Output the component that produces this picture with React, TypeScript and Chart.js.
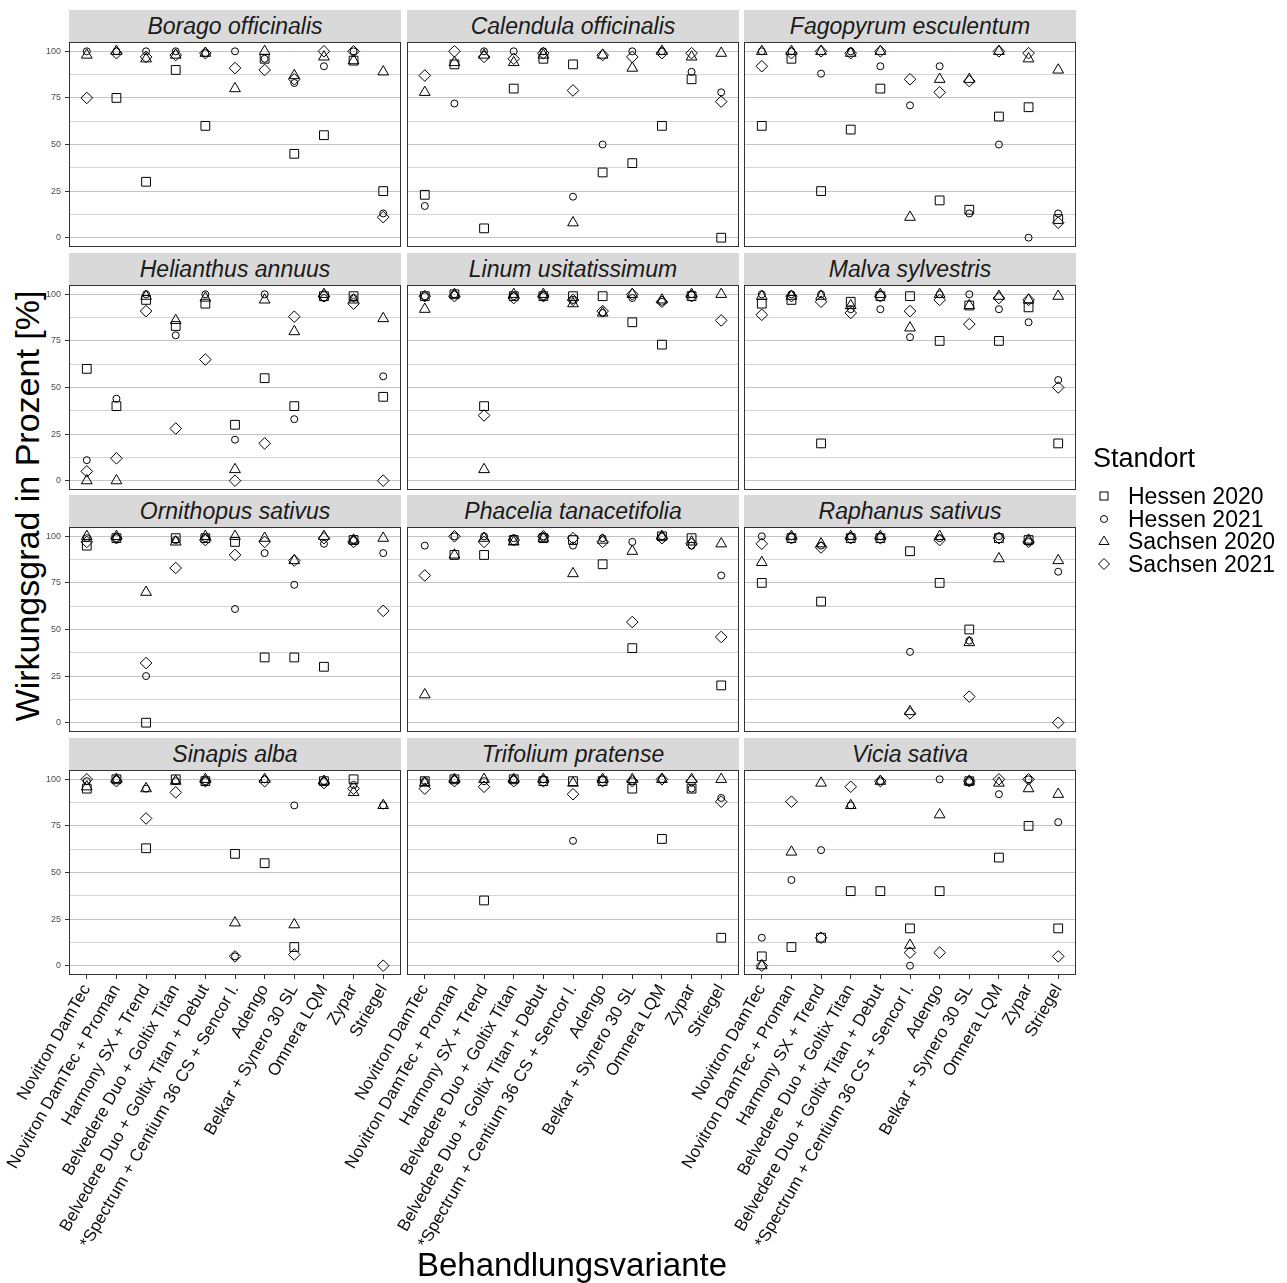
import React, { useEffect, useRef } from "react";
import { Chart, registerables } from "chart.js";
Chart.register(...registerables);

const FONT = "'Liberation Sans', Arial, Helvetica, sans-serif";
Chart.defaults.font.family = FONT;

// ---------- data ----------
const categories = [
  "Novitron DamTec",
  "Novitron DamTec + Proman",
  "Harmony SX + Trend",
  "Belvedere Duo + Goltix Titan",
  "Belvedere Duo + Goltix Titan + Debut",
  "*Spectrum + Centium 36 CS + Sencor l.",
  "Adengo",
  "Belkar + Synero 30 SL",
  "Omnera LQM",
  "Zypar",
  "Striegel",
];

const seriesNames = ["Hessen 2020", "Hessen 2021", "Sachsen 2020", "Sachsen 2021"];
const yTicks = [0, 25, 50, 75, 100];

const speciesNames = [
  "Borago officinalis",
  "Calendula officinalis",
  "Fagopyrum esculentum",
  "Helianthus annuus",
  "Linum usitatissimum",
  "Malva sylvestris",
  "Ornithopus sativus",
  "Phacelia tanacetifolia",
  "Raphanus sativus",
  "Sinapis alba",
  "Trifolium pratense",
  "Vicia sativa",
];

// rows: Hessen 2020, Hessen 2021, Sachsen 2020, Sachsen 2021
const borago = [
  [null, 75, 30, 90, 60, null, 96, 45, 55, 95, 25],
  [100, 100, 100, 100, 99, 100, 96, 83, 92, 100, 13],
  [98, 100, 96, 98, 99, 80, 100, 87, 97, 95, 89],
  [75, 99, 97, 98, 99, 91, 90, 85, 100, 100, 11],
];
const calendula = [
  [23, 93, 5, 80, 96, 93, 35, 40, 60, 85, 0],
  [17, 72, 100, 100, 100, 22, 50, 100, 100, 89, 78],
  [78, 94, 98, 94, 98, 8, 98, 91, 100, 97, 99],
  [87, 100, 97, 96, 99, 79, 98, 97, 99, 99, 73],
];
const fagopyrum = [
  [60, 96, 25, 58, 80, null, 20, 15, 65, 70, 10],
  [100, 100, 88, 100, 92, 71, 92, 13, 50, 0, 13],
  [100, 100, 100, 99, 100, 11, 85, 85, 100, 96, 90],
  [92, 99, 100, 99, 100, 85, 78, 84, 100, 99, 8],
];
const helianthus = [
  [60, 40, 97, 83, 95, 30, 55, 40, 99, 99, 45],
  [11, 44, 100, 78, 100, 22, 100, 33, 98, 98, 56],
  [0, 0, 99, 86, 98, 6, 97, 80, 100, 97, 87],
  [5, 12, 91, 28, 65, 0, 20, 88, 99, 95, 0],
];
const linum = [
  [99, 100, 40, 99, 99, 99, 99, 85, 73, 99, null],
  [99, 100, null, 99, 99, 97, 90, 98, 96, 100, null],
  [92, 100, 6, 100, 100, 95, 90, 100, 97, 100, 100],
  [99, 99, 35, 98, 99, 97, 91, 100, 96, 99, 86],
];
const malva = [
  [95, 97, 20, 96, 99, 99, 75, 94, 75, 93, 20],
  [100, 100, 100, 92, 92, 77, 100, 100, 92, 85, 54],
  [99, 99, 99, 94, 100, 82, 100, 94, 99, 97, 99],
  [89, 99, 96, 90, 99, 91, 97, 84, 98, 97, 50],
];
const ornithopus = [
  [95, 99, 0, 99, 99, 97, 35, 35, 30, 98, null],
  [99, 99, 25, 98, 99, 61, 91, 74, 96, 98, 91],
  [100, 100, 70, 97, 100, 100, 99, 87, 100, 98, 99],
  [97, 99, 32, 83, 98, 90, 97, 87, 99, 97, 60],
];
const phacelia = [
  [null, 90, 90, 98, 99, 98, 85, 40, 100, 99, 20],
  [95, 100, 100, 99, 100, 95, 99, 97, 100, 95, 79],
  [15, 90, 99, 97, 99, 80, 98, 92, 100, 97, 96],
  [79, 100, 97, 98, 100, 99, 97, 54, 99, 96, 46],
];
const raphanus = [
  [75, 99, 65, 99, 99, 92, 75, 50, 99, 98, null],
  [100, 100, 95, 100, 100, 38, 99, 44, 100, 97, 81],
  [86, 100, 96, 100, 100, 6, 100, 43, 88, 98, 87],
  [96, 99, 94, 99, 99, 5, 98, 14, 99, 97, 0],
];
const sinapis = [
  [95, 100, 63, 100, 99, 60, 55, 10, 99, 100, null],
  [99, 100, 95, 99, 99, 5, 100, 86, 99, 97, 86],
  [96, 100, 95, 99, 100, 23, 100, 22, 99, 93, 86],
  [100, 99, 79, 93, 99, 5, 99, 6, 98, 95, 0],
];
const trifolium = [
  [99, 100, 35, 100, 99, 99, 99, 95, 68, 95, 15],
  [99, 100, 99, 100, 100, 67, 100, 99, 100, 95, 90],
  [98, 100, 100, 100, 100, 98, 100, 100, 100, 100, 100],
  [95, 99, 96, 99, 99, 92, 99, 99, 100, 99, 88],
];
const vicia = [
  [5, 10, 15, 40, 40, 20, 40, 99, 58, 75, 20],
  [15, 46, 62, 86, 99, 0, 100, 99, 92, 100, 77],
  [0, 61, 98, 86, 99, 11, 81, 99, 98, 95, 92],
  [0, 88, 15, 96, 99, 7, 7, 99, 100, 100, 5],
];

const panelValues = [
  borago, calendula, fagopyrum,
  helianthus, linum, malva,
  ornithopus, phacelia, raphanus,
  sinapis, trifolium, vicia,
];

// ---------- styling / layout ----------
const pointStyles = ["rect", "circle", "triangle", "rectRot"];
const pointRadii = [6.2, 3.5, 6.2, 5.8];

const L = 150; // extra canvas room to the left
const R = 20;
const T = 14; // extra canvas room above/below for axis label padding
const B = 295; // x-axis label room (bottom row)
const PW = 332;
const PH = 205;
const YW = 40; // y axis width (left column)
const colLeft = [69, 407, 744];
const rowTop = [42, 285, 527, 770];
const STRIP_H = 32;

const borderPlugin = {
  id: "panelBorder",
  beforeDatasetsDraw(chart: any) {
    const { left, top, right, bottom } = chart.chartArea;
    const ctx = chart.ctx;
    ctx.save();
    ctx.strokeStyle = "#333333";
    ctx.lineWidth = 1;
    ctx.strokeRect(Math.round(left) + 0.5, Math.round(top) + 0.5, Math.round(right - left) - 1, Math.round(bottom - top) - 1);
    ctx.restore();
  },
};

function Panel({ idx }: { idx: number }) {
  const ref = useRef<HTMLCanvasElement>(null);
  const r = Math.floor(idx / 3);
  const c = idx % 3;
  const isLeft = c === 0;
  const isBottom = r === 3;
  const w = L + PW + R;
  const h = T + PH + (isBottom ? B : T);

  useEffect(() => {
    const values = panelValues[idx];
    const datasets = seriesNames.map((name, s) => ({
      label: name,
      data: values[s]
        .map((v: number | null, i: number) => (v == null ? null : { x: i, y: v }))
        .filter((p: any) => p !== null),
      pointStyle: pointStyles[s],
      pointRadius: pointRadii[s],
      pointHoverRadius: pointRadii[s],
      borderColor: "#000000",
      backgroundColor: "rgba(0,0,0,0)",
      pointBorderColor: "#000000",
      pointBackgroundColor: "rgba(0,0,0,0)",
      pointBorderWidth: 1,
      showLine: false,
    }));

    const chart = new Chart(ref.current as HTMLCanvasElement, {
      type: "scatter",
      data: { datasets } as any,
      plugins: [borderPlugin],
      options: {
        animation: false,
        responsive: false,
        events: [],
        layout: {
          autoPadding: false,
          padding: {
            left: L - (isLeft ? YW : 0),
            right: R,
            top: T,
            bottom: isBottom ? 0 : T,
          },
        },
        plugins: { legend: { display: false }, tooltip: { enabled: false } },
        scales: {
          x: {
            type: "linear",
            min: -0.6,
            max: 10.6,
            afterBuildTicks: (axis: any) => {
              axis.ticks = categories.map((_, i) => ({ value: i }));
            },
            afterFit: (s: any) => {
              s.height = isBottom ? B : 0;
            },
            border: { display: false },
            grid: {
              drawOnChartArea: false,
              drawTicks: isBottom,
              tickLength: 4,
              tickColor: "#333333",
            },
            ticks: {
              display: isBottom,
              autoSkip: false,
              minRotation: 60,
              maxRotation: 60,
              padding: 2,
              color: "#111111",
              font: { size: 17, family: FONT },
              callback: (v: any) => categories[Math.round(Number(v))] ?? "",
            },
          },
          y: {
            type: "linear",
            min: -5,
            max: 105,
            afterBuildTicks: (axis: any) => {
              const t: any[] = [];
              for (let v = 0; v <= 100; v += 12.5) t.push({ value: v });
              axis.ticks = t;
            },
            afterFit: (s: any) => {
              s.width = isLeft ? YW : 0;
            },
            border: { display: false },
            grid: {
              color: (ctx: any) =>
                ctx.tick && yTicks.includes(ctx.tick.value) ? "#c4c4c4" : "#d4d4d4",
              lineWidth: 1,
              drawTicks: isLeft,
              tickLength: 4,
              tickColor: (ctx: any) =>
                ctx.tick && yTicks.includes(ctx.tick.value) ? "#333333" : "rgba(0,0,0,0)",
            },
            ticks: {
              display: isLeft,
              autoSkip: false,
              padding: 4,
              color: "#4d4d4d",
              font: { size: 9, family: FONT },
              callback: (v: any) => (yTicks.includes(Number(v)) ? String(v) : ""),
            },
          },
        },
      } as any,
    });
    return () => chart.destroy();
  }, []);

  return (
    <canvas
      ref={ref}
      width={w}
      height={h}
      style={{ position: "absolute", left: colLeft[c] - L, top: rowTop[r] - T, width: w, height: h }}
    />
  );
}

function LegendSymbol({ s }: { s: number }) {
  const cx = 10, cy = 11;
  const st = { fill: "none", stroke: "#000", strokeWidth: 1 } as any;
  if (s === 0) return <svg width={20} height={22}><rect x={cx - 4} y={cy - 4} width={8} height={8} {...st} /></svg>;
  if (s === 1) return <svg width={20} height={22}><circle cx={cx} cy={cy} r={3.5} {...st} /></svg>;
  if (s === 2)
    return (
      <svg width={20} height={22}>
        <polygon points={`${cx},${cy - 5} ${cx + 5},${cy + 3.5} ${cx - 5},${cy + 3.5}`} {...st} />
      </svg>
    );
  return (
    <svg width={20} height={22}>
      <polygon points={`${cx},${cy - 5.5} ${cx + 5.5},${cy} ${cx},${cy + 5.5} ${cx - 5.5},${cy}`} {...st} />
    </svg>
  );
}

export default function App() {
  return (
    <div
      style={{
        position: "absolute",
        left: 0,
        top: 0,
        width: 1287,
        height: 1283,
        overflow: "hidden",
        background: "#ffffff",
        fontFamily: FONT,
      }}
    >
      {speciesNames.map((name, i) => {
        const r = Math.floor(i / 3);
        const c = i % 3;
        return (
          <div
            key={"strip" + i}
            style={{
              position: "absolute",
              left: colLeft[c],
              top: rowTop[r] - STRIP_H,
              width: PW,
              height: STRIP_H,
              background: "#d9d9d9",
              color: "#1a1a1a",
              fontStyle: "italic",
              fontSize: 23,
              lineHeight: STRIP_H + "px",
              textAlign: "center",
              whiteSpace: "nowrap",
            }}
          >
            {name}
          </div>
        );
      })}
      <div
        style={{
          position: "absolute",
          left: 27 - 250,
          top: 506 - 20,
          width: 500,
          height: 40,
          lineHeight: "40px",
          textAlign: "center",
          fontSize: 34,
          color: "#000",
          transform: "rotate(-90deg)",
          transformOrigin: "250px 20px",
          whiteSpace: "nowrap",
        }}
      >
        Wirkungsgrad in Prozent [%]
      </div>
      {speciesNames.map((_, i) => (
        <Panel key={"panel" + i} idx={i} />
      ))}
      <div
        style={{
          position: "absolute",
          left: 572 - 250,
          top: 1246,
          width: 500,
          height: 38,
          lineHeight: "38px",
          textAlign: "center",
          fontSize: 33,
          color: "#000",
          whiteSpace: "nowrap",
        }}
      >
        Behandlungsvariante
      </div>
      <div
        style={{
          position: "absolute",
          left: 1093,
          top: 443,
          fontSize: 27,
          lineHeight: "30px",
          color: "#000",
          whiteSpace: "nowrap",
        }}
      >
        Standort
      </div>
      {seriesNames.map((name, s) => (
        <div
          key={"leg" + s}
          style={{
            position: "absolute",
            left: 1094,
            top: 485 + s * 22.5,
            height: 22,
            display: "flex",
            alignItems: "center",
            whiteSpace: "nowrap",
          }}
        >
          <LegendSymbol s={s} />
          <span style={{ marginLeft: 14, fontSize: 23, lineHeight: "22px", color: "#000" }}>{name}</span>
        </div>
      ))}
    </div>
  );
}
